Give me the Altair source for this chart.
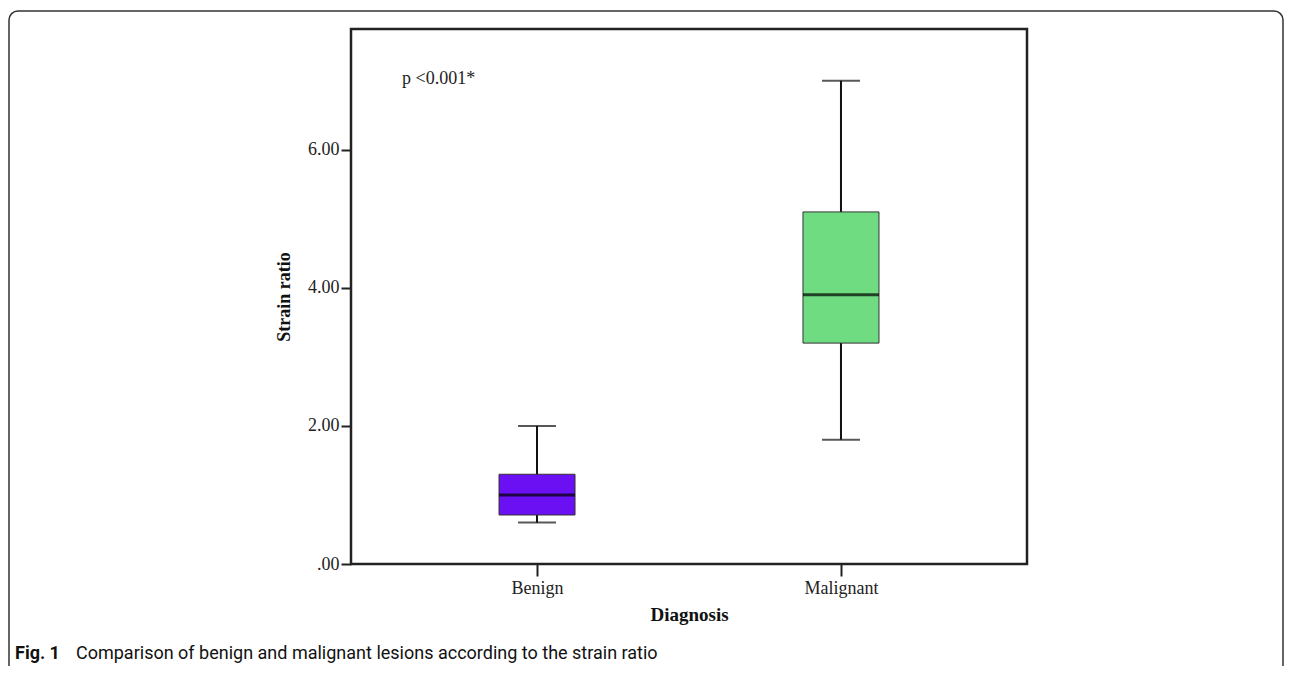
import altair as alt
import pandas as pd

categories = ["Benign", "Malignant"]
mins = [0.60, 1.80]
q1s = [0.71, 3.20]
medians = [1.00, 3.90]
q3s = [1.30, 5.10]
maxs = [2.00, 7.00]
colors = ["#6a10f2", "#70dc82"]
y_ticks = [0, 2, 4, 6]

df = pd.DataFrame({"Diagnosis": categories, "min": mins, "q1": q1s,
                   "median": medians, "q3": q3s, "max": maxs})

W, H = 676, 535
PAD_L, PAD_T = 343, 21

xs = alt.Scale(type="point", domain=categories, padding=0.612)
ys = alt.Scale(domain=[0, 7.75], nice=False, zero=True)

x_enc = alt.X("Diagnosis:N", scale=xs, sort=categories,
              axis=alt.Axis(title="Diagnosis", labelAngle=0, tickSize=12,
                            labelPadding=3, labelFontSize=18, titleFontSize=19,
                            titleFontWeight="bold", titlePadding=8,
                            labelFont="Liberation Serif", titleFont="Liberation Serif",
                            labelColor="#222", titleColor="#111",
                            domain=False, tickColor="#222", tickWidth=2))
y_axis = alt.Axis(title="Strain ratio", values=y_ticks, tickSize=10, labelPadding=2,
                  labelExpr="datum.value == 0 ? '.00' : format(datum.value, '.2f')",
                  labelFontSize=18, titleFontSize=18, titleFontWeight="bold",
                  labelFont="Liberation Serif", titleFont="Liberation Serif",
                  labelColor="#222", titleColor="#111", titlePadding=14,
                  domain=False, grid=False, tickColor="#222", tickWidth=2)

base = alt.Chart(df)

whisker = base.mark_rule(color="#111", strokeWidth=2).encode(
    x=x_enc, y=alt.Y("min:Q", scale=ys, axis=y_axis), y2="max:Q")
caps_lo = base.mark_tick(color="#111", size=38, thickness=2).encode(
    x=alt.X("Diagnosis:N", scale=xs), y=alt.Y("min:Q", scale=ys))
caps_hi = base.mark_tick(color="#111", size=38, thickness=2).encode(
    x=alt.X("Diagnosis:N", scale=xs), y=alt.Y("max:Q", scale=ys))
box = base.mark_bar(size=76, stroke="#333", strokeWidth=1).encode(
    x=alt.X("Diagnosis:N", scale=xs), y=alt.Y("q1:Q", scale=ys), y2="q3:Q",
    color=alt.Color("Diagnosis:N", scale=alt.Scale(domain=categories, range=colors),
                    legend=None))
med = base.mark_tick(color="#000", size=76, thickness=3).encode(
    x=alt.X("Diagnosis:N", scale=xs), y=alt.Y("median:Q", scale=ys))

one = alt.Chart(pd.DataFrame({"t": ["p <0.001*"]}))
ptext = one.mark_text(align="left", baseline="middle", font="Liberation Serif",
                      fontSize=18, color="#222").encode(
    x=alt.value(51), y=alt.value(50), text="t:N")

# plot frame drawn as a rect over the whole plot area
pframe = one.mark_rect(fill=None, stroke="#222", strokeWidth=2.5).encode(
    x=alt.value(0), x2=alt.value(W), y=alt.value(0), y2=alt.value(H))

frame = one.mark_rect(fill=None, stroke="#333", strokeWidth=1.5, cornerRadius=9).encode(
    x=alt.value(9 - 8 - PAD_L), x2=alt.value(1283 - 8 - PAD_L),
    y=alt.value(11 - 8 - PAD_T), y2=alt.value(720))

cap1 = alt.Chart(pd.DataFrame({"t": ["Fig. 1"]})).mark_text(
    align="left", baseline="alphabetic", font="Roboto", fontSize=18,
    fontWeight="bold", color="#111").encode(
    x=alt.value(15 - 8 - PAD_L), y=alt.value(659 - 8 - PAD_T), text="t:N")
cap2 = alt.Chart(pd.DataFrame({"t": ["Comparison of benign and malignant lesions according to the strain ratio"]})).mark_text(
    align="left", baseline="alphabetic", font="Roboto", fontSize=18,
    color="#111").encode(
    x=alt.value(76 - 8 - PAD_L), y=alt.value(659 - 8 - PAD_T), text="t:N")

chart = alt.layer(whisker, caps_lo, caps_hi, box, med, ptext, pframe, frame, cap1, cap2).properties(
    width=W, height=H,
    autosize=alt.AutoSizeParams(type="none"),
    padding={"left": PAD_L, "top": PAD_T, "right": 1276 - PAD_L - W, "bottom": 658 - PAD_T - H},
).configure_view(stroke=None)

chart.save("out.html", embed_options={"renderer": "svg", "actions": False})
